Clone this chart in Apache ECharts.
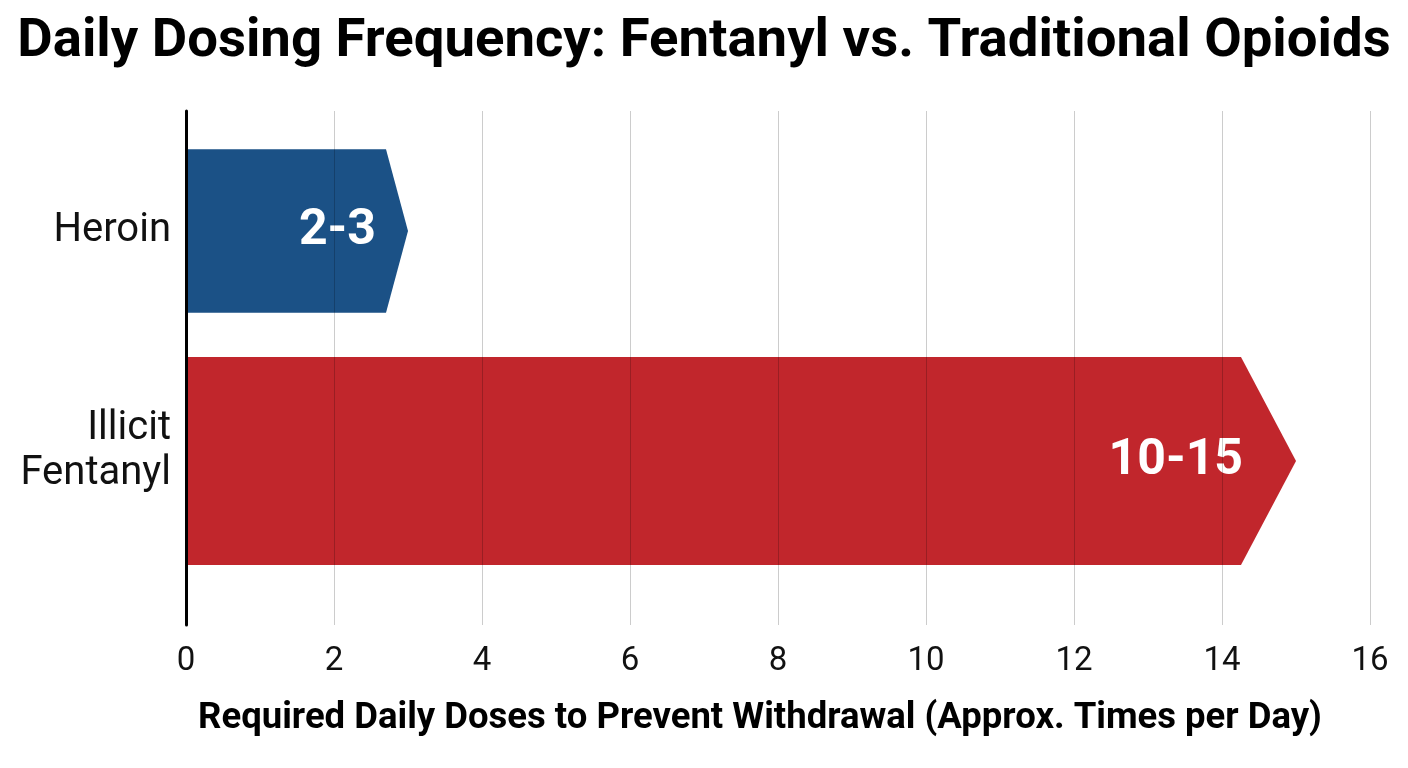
<!DOCTYPE html>
<html>
<head>
<meta charset="utf-8">
<script src="https://cdn.jsdelivr.net/npm/echarts@6/dist/echarts.min.js"></script>
<style>
  html, body { margin: 0; padding: 0; background: #ffffff; }
  #chart { width: 1408px; height: 768px; }
</style>
</head>
<body>
<div id="chart"></div>
<script>
// ---- data ----
var categories = ['Heroin', 'Illicit\nFentanyl'];
var dosesLow = [2, 10];
var dosesHigh = [3, 15];
var xTicks = [0, 2, 4, 6, 8, 10, 12, 14, 16];

// ---- styles (not data) ----
var barColors = ['#1b5186', '#c1262c'];
var barThickness = [0.71, 0.905];   // fraction of category band
var arrowHeadPx = [22, 55];         // length of arrow head in px
var labelGapPx = [32, 53];          // label right edge distance from tip

var FONT = 'Roboto';

var chart = echarts.init(document.getElementById('chart'), null, { renderer: 'canvas' });

var seriesData = categories.map(function (c, i) {
  return [dosesHigh[i], i, dosesLow[i]];
});

var option = {
  backgroundColor: '#ffffff',
  animation: false,
  title: {
    text: 'Daily Dosing Frequency: Fentanyl vs. Traditional Opioids',
    left: 'center',
    top: 10,
    textStyle: { fontFamily: FONT, fontSize: 54.5, fontWeight: 'bold', color: '#000000' }
  },
  grid: [
    { left: 186, right: 38, top: 111, bottom: 143, containLabel: false },
    { left: 186, right: 38, top: 116, bottom: 192, containLabel: false }
  ],
  xAxis: [
    {
      gridIndex: 0, type: 'value', min: xTicks[0], max: xTicks[xTicks.length - 1], interval: 2,
      z: 3,
      axisLine: { show: false },
      axisTick: { show: false },
      splitLine: { show: true, lineStyle: { color: 'rgba(0,0,0,0.2)', width: 1 } },
      axisLabel: { fontFamily: FONT, fontSize: 33, color: '#111111', margin: 20 },
      name: 'Required Daily Doses to Prevent Withdrawal (Approx. Times per Day)',
      nameLocation: 'middle',
      nameGap: 75,
      nameTextStyle: {
        fontFamily: FONT, fontSize: 36.5, fontWeight: 'bold', color: '#000000',
        padding: [0, 36, 0, 0]
      }
    },
    {
      gridIndex: 1, type: 'value', min: xTicks[0], max: xTicks[xTicks.length - 1], interval: 2,
      show: false
    }
  ],
  yAxis: [
    {
      gridIndex: 0, type: 'category', data: [],
      z: 4,
      axisLine: { show: true, lineStyle: { color: '#000000', width: 3 } },
      axisTick: { show: false },
      axisLabel: { show: false },
      splitLine: { show: false }
    },
    {
      gridIndex: 1, type: 'category', data: categories, inverse: true,
      axisLine: { show: false },
      axisTick: { show: false },
      splitLine: { show: false },
      axisLabel: {
        fontFamily: FONT, fontSize: 40, color: '#111111', margin: 15,
        lineHeight: 45, align: 'right',
        formatter: function (v) {
          if (v.indexOf('\n') < 0) return v;
          return v.split('\n').map(function (s) { return '{n|' + s + '}'; }).join('\n') + '\n{s| }';
        },
        rich: {
          n: { fontFamily: FONT, fontSize: 40, color: '#111111', lineHeight: 45, align: 'right' },
          s: { fontSize: 10, lineHeight: 20 }
        }
      }
    }
  ],
  series: [
    {
      type: 'custom',
      xAxisIndex: 1,
      yAxisIndex: 1,
      z: 2,
      data: seriesData,
      renderItem: function (params, api) {
        var i = params.dataIndex;
        var tipVal = api.value(0);
        var cat = api.value(1);
        var low = api.value(2);
        var start = api.coord([0, cat]);
        var tip = api.coord([tipVal, cat]);
        var band = api.size([0, 1])[1];
        var h = band * barThickness[i];
        var cy = start[1];
        var x0 = start[0];
        var xt = tip[0];
        var xb = xt - arrowHeadPx[i];
        var pts = [
          [x0, cy - h / 2],
          [xb, cy - h / 2],
          [xt, cy],
          [xb, cy + h / 2],
          [x0, cy + h / 2]
        ];
        return {
          type: 'group',
          children: [
            {
              type: 'polygon',
              shape: { points: pts },
              style: { fill: barColors[i] }
            },
            {
              type: 'text',
              x: xt - labelGapPx[i],
              y: cy,
              style: {
                text: low + '-' + tipVal,
                fill: '#ffffff',
                font: 'bold 50px ' + FONT,
                align: 'right',
                verticalAlign: 'middle'
              }
            }
          ]
        };
      }
    }
  ]
};

chart.setOption(option);
</script>
</body>
</html>
